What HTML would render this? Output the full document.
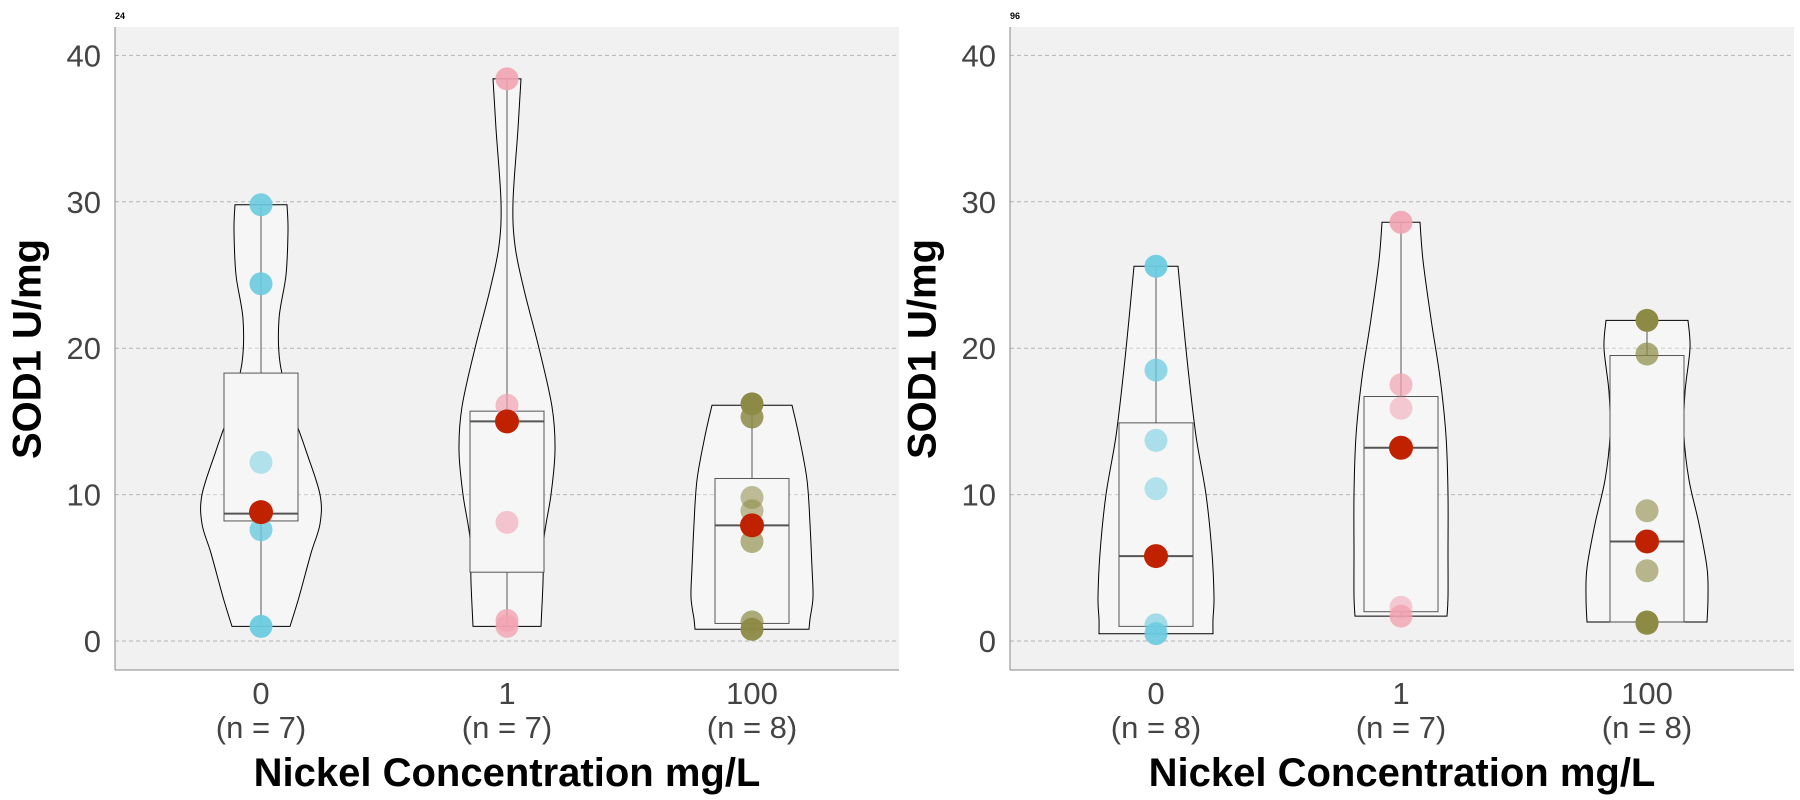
<!DOCTYPE html>
<html><head><meta charset="utf-8">
<style>
html,body{margin:0;padding:0;background:#fff;}
svg{display:block;font-family:"Liberation Sans",Arial,sans-serif;}
</style></head>
<body>
<svg id="s" width="1800" height="800" viewBox="0 0 1800 800" xmlns="http://www.w3.org/2000/svg"></svg>
<script>
const S=document.getElementById('s');
const Y=v=>641-14.64*v;
let h='';
const panels=[
 {x0:115,x1:899,tickR:101,label:'24',ytx:30,
  groups:[
   {cx:261,n:7,lab:'0',col:'#6ccbe0',
    vio:[[29.8,26],[28,27],[25,25],[22,18],[19,19],[16,30],[13,45],[10,59],[8,59],[6,50],[3,38],[1,29]],
    box:[1,8.2,8.7,18.3,29.8],
    pts:[[29.8,0.9],[24.4,0.9],[12.2,0.5],[7.6,0.8],[1.0,0.95]],med:8.8},
   {cx:507,n:7,lab:'1',col:'#f2a3b2',
    vio:[[38.4,14],[35,11],[30,6],[27,8],[24,17],[20,32],[16,45],[13,48],[10,44],[7,37],[4,36],[1,34]],
    box:[1,4.7,15.0,15.7,38.4],
    pts:[[38.4,0.9],[16.1,0.7],[8.1,0.6],[1.4,0.8],[1.0,0.8]],med:15.0},
   {cx:752,n:8,lab:'100',col:'#8c8a45',
    vio:[[16.1,40],[14,47],[11,55],[8,58],[5,60],[3,61],[1.5,58],[0.8,57]],
    box:[0.8,1.2,7.9,11.1,16.1],
    pts:[[16.2,1],[15.3,0.85],[9.8,0.55],[8.9,0.55],[6.8,0.65],[1.3,0.7],[0.8,0.95]],med:7.9}
  ]},
 {x0:1010,x1:1794,tickR:996,label:'96',ytx:925,
  groups:[
   {cx:1156,n:8,lab:'0',col:'#6ccbe0',
    vio:[[25.6,22],[22,27],[18,33],[14,40],[10,50],[6,56],[3,58],[1.5,57],[0.5,57]],
    box:[0.5,1.0,5.8,14.9,25.6],
    pts:[[25.6,0.95],[18.5,0.75],[13.7,0.55],[10.4,0.5],[1.1,0.6],[0.5,0.9]],med:5.8},
   {cx:1401,n:7,lab:'1',col:'#f2a3b2',
    vio:[[28.6,19],[26,22],[22,30],[18,39],[14,45],[10,47],[6,47],[3,47],[1.7,46]],
    box:[1.7,2.0,13.2,16.7,28.6],
    pts:[[28.6,0.9],[17.5,0.7],[15.9,0.55],[2.3,0.55],[1.7,0.8]],med:13.2},
   {cx:1647,n:8,lab:'100',col:'#8c8a45',
    vio:[[21.9,41],[20,43],[17,38],[14,37],[11,42],[8,52],[5,60],[3,61],[1.3,60]],
    box:[1.3,1.3,6.8,19.5,21.9],
    pts:[[21.9,1],[19.6,0.7],[8.9,0.6],[4.8,0.6],[1.3,1],[1.2,0.9]],med:6.8}
  ]}
];
function smoothPath(pts){
 let d='M'+pts[0][0]+','+pts[0][1];
 for(let i=0;i<pts.length-1;i++){
  const p0=pts[i-1]||pts[i],p1=pts[i],p2=pts[i+1],p3=pts[i+2]||p2;
  const c1=[p1[0]+(p2[0]-p0[0])/6,p1[1]+(p2[1]-p0[1])/6];
  const c2=[p2[0]-(p3[0]-p1[0])/6,p2[1]-(p3[1]-p1[1])/6];
  d+=` C${c1[0].toFixed(1)},${c1[1].toFixed(1)} ${c2[0].toFixed(1)},${c2[1].toFixed(1)} ${p2[0]},${p2[1].toFixed(1)}`;
 }
 return d;
}
panels.forEach(p=>{
 h+=`<rect x="${p.x0}" y="27" width="${p.x1-p.x0}" height="643" fill="#f1f1f1"/>`;
 h+=`<text x="${p.x0}" y="19" font-size="9" font-weight="bold" fill="#000">${p.label}</text>`;
 [0,10,20,30,40].forEach(v=>{
  h+=`<line x1="${p.x0}" x2="${p.x1}" y1="${Y(v)}" y2="${Y(v)}" stroke="#b4b4b4" stroke-width="1" stroke-dasharray="4,3"/>`;
  h+=`<text x="${p.tickR}" y="${Y(v)+11}" font-size="31" fill="#444" text-anchor="end">${v}</text>`;
 });
 h+=`<line x1="${p.x0}" x2="${p.x0}" y1="27" y2="670" stroke="#888" stroke-width="1"/>`;
 h+=`<line x1="${p.x0}" x2="${p.x1}" y1="670" y2="670" stroke="#888" stroke-width="1"/>`;
 p.groups.forEach(g=>{
  const R=g.vio.map(([v,w])=>[g.cx+w,Y(v)]);
  const L=g.vio.slice().reverse().map(([v,w])=>[g.cx-w,Y(v)]);
  let d=smoothPath(R)+' L'+L[0][0]+','+L[0][1].toFixed(1)+smoothPath(L).replace(/^M[^C]*/,' ')+' Z';
  h+=`<path d="${d}" fill="#ffffff" fill-opacity="0.35" stroke="#000" stroke-width="1"/>`;
  const b=g.box;
  h+=`<rect x="${g.cx-37}" y="${Y(b[3])}" width="74" height="${Y(b[1])-Y(b[3])}" fill="#f6f6f6" stroke="#555" stroke-width="1"/>`;
  h+=`<line x1="${g.cx}" x2="${g.cx}" y1="${Y(b[3])}" y2="${Y(b[4])}" stroke="#555" stroke-width="1"/>`;
  h+=`<line x1="${g.cx}" x2="${g.cx}" y1="${Y(b[1])}" y2="${Y(b[0])}" stroke="#555" stroke-width="1"/>`;
  h+=`<line x1="${g.cx-37}" x2="${g.cx+37}" y1="${Y(b[2])}" y2="${Y(b[2])}" stroke="#555" stroke-width="2"/>`;
  g.pts.forEach(([v,o])=>{
   h+=`<circle cx="${g.cx}" cy="${Y(v)}" r="11.5" fill="${g.col}" fill-opacity="${o}"/>`;
  });
  h+=`<circle cx="${g.cx}" cy="${Y(g.med)}" r="12" fill="#c02200"/>`;
  h+=`<text x="${g.cx}" y="704" font-size="31" fill="#444" text-anchor="middle">${g.lab}</text>`;
  h+=`<text x="${g.cx}" y="738" font-size="31" fill="#444" text-anchor="middle">(n = ${g.n})</text>`;
 });
 const mid=(p.x0+p.x1)/2;
 h+=`<text x="${mid}" y="786" font-size="40" font-weight="bold" fill="#000" text-anchor="middle">Nickel Concentration mg/L</text>`;
 h+=`<text transform="translate(${p.ytx},349) rotate(-90)" font-size="40" font-weight="bold" fill="#000" text-anchor="middle" dominant-baseline="middle">SOD1 U/mg</text>`;
});
S.innerHTML=h;
</script>
</body></html>
